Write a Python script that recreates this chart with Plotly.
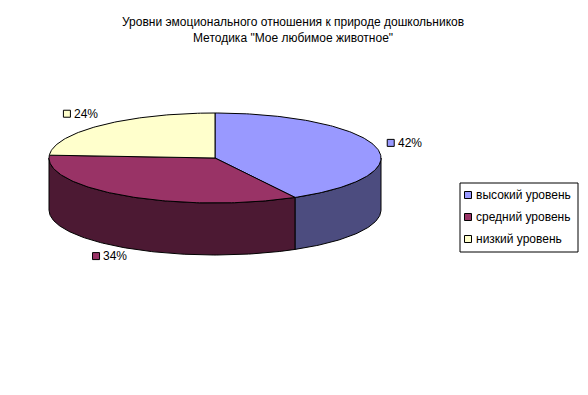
import numpy as np
import plotly.graph_objects as go

# ---- data ----
categories = ["высокий уровень", "средний уровень", "низкий уровень"]
values = [42, 34, 24]
pct_labels = ["42%", "34%", "24%"]
top_colors = ["#9999FF", "#993366", "#FFFFCC"]
side_colors = ["#4C4C7F", "#4C1933", "#7F7F66"]
title_lines = ["Уровни эмоционального отношения к природе дошкольников",
               "Методика \"Мое любимое животное\""]

# ---- geometry (pixel space) ----
W, H = 588, 395
CX, CY, RX, RY, DEPTH = 215, 158, 166, 45, 52
FONT = "Liberation Sans, Arial, sans-serif"


def pt(theta_deg, dy=0.0, sx=1.0, sy=1.0):
    t = np.radians(theta_deg)
    return CX + RX * sx * np.sin(t), CY - RY * sy * np.cos(t) + dy


def arc(a0, a1, dy=0.0, n=None):
    if n is None:
        n = max(2, int(abs(a1 - a0)) + 1)
    th = np.linspace(a0, a1, n)
    xs, ys = pt(th, dy)
    return list(xs), list(ys)


total = sum(values)
angles = [0.0]
for v in values:
    angles.append(angles[-1] + 360.0 * v / total)

fig = go.Figure()

# side walls (front half only: 90..270 deg)
for i in range(len(values)):
    a0, a1 = max(angles[i], 90), min(angles[i + 1], 270)
    if a1 <= a0:
        continue
    xt, yt = arc(a0, a1)
    xb, yb = arc(a1, a0, dy=DEPTH)
    fig.add_trace(go.Scatter(
        x=xt + xb + [xt[0]], y=yt + yb + [yt[0]], mode="lines",
        fill="toself", fillcolor=side_colors[i],
        line=dict(color="black", width=1), hoverinfo="skip", showlegend=False))

# top faces
for i in range(len(values)):
    xa, ya = arc(angles[i], angles[i + 1])
    fig.add_trace(go.Scatter(
        x=[CX] + xa + [CX], y=[CY] + ya + [CY], mode="lines",
        fill="toself", fillcolor=top_colors[i],
        line=dict(color="black", width=1), name=categories[i],
        hoverinfo="skip", showlegend=False))

# percentage labels with colour keys
for i in range(len(values)):
    mid = (angles[i] + angles[i + 1]) / 2
    lx, ly = pt(mid, sx=1.18, sy=1.35)
    lx, ly = float(lx), float(ly)
    if np.cos(np.radians(mid)) < 0:
        ly += DEPTH * 0.9
    fig.add_trace(go.Scatter(
        x=[lx - 14], y=[ly], mode="markers",
        marker=dict(symbol="square", size=7, color=top_colors[i],
                    line=dict(color="black", width=1)),
        hoverinfo="skip", showlegend=False))
    fig.add_annotation(x=lx - 9, y=ly, text=pct_labels[i], showarrow=False,
                       xanchor="left", yanchor="middle",
                       font=dict(family=FONT, size=12, color="black"))

# legend (box, keys, texts)
LX0, LX1, LY0, LY1 = 460, 578, 183, 252
fig.add_shape(type="rect", x0=LX0, x1=LX1, y0=LY0, y1=LY1,
              line=dict(color="black", width=1), fillcolor="white", layer="below")
for i, c in enumerate(categories):
    yy = 195 + 22 * i
    fig.add_trace(go.Scatter(
        x=[468], y=[yy], mode="markers",
        marker=dict(symbol="square", size=7, color=top_colors[i],
                    line=dict(color="black", width=1)),
        hoverinfo="skip", showlegend=False))
    fig.add_annotation(x=474, y=yy, text=c, showarrow=False,
                       xanchor="left", yanchor="middle",
                       font=dict(family=FONT, size=12, color="black"))

# title
fig.add_annotation(x=CX + 78, y=30, text="<br>".join(title_lines), showarrow=False,
                   xanchor="center", yanchor="middle", align="center",
                   font=dict(family=FONT, size=12, color="black"))

fig.update_layout(
    width=W, height=H, margin=dict(l=0, r=0, t=0, b=0),
    paper_bgcolor="white", plot_bgcolor="white",
    xaxis=dict(range=[0, W], visible=False, fixedrange=True),
    yaxis=dict(range=[H, 0], visible=False, fixedrange=True),
    showlegend=False,
)

fig.write_html("out.html", config={"displayModeBar": False},
               post_script="document.body.style.margin='0';")
